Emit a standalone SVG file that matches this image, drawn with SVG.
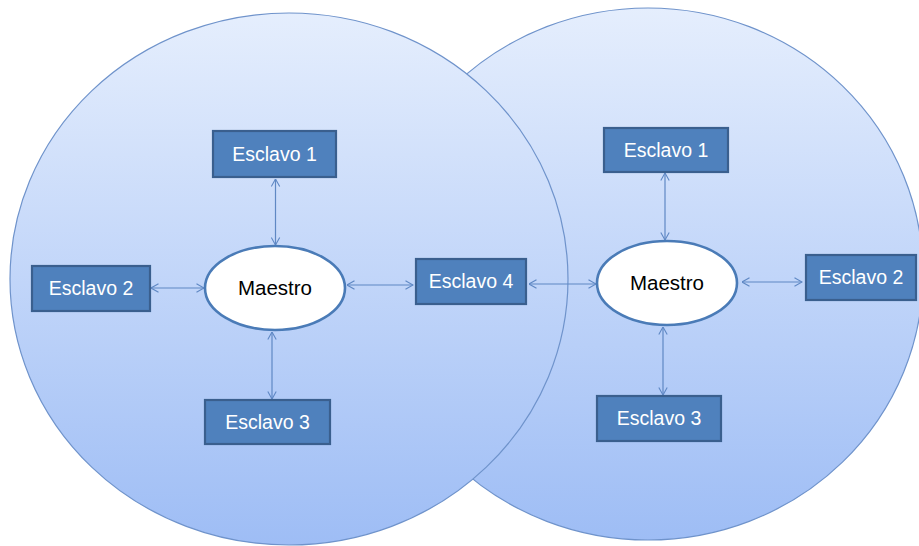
<svg xmlns="http://www.w3.org/2000/svg" width="919" height="546" viewBox="0 0 919 546">
  <style>
    .zone { stroke: #6f93cb; stroke-width: 1.2; }
    .box { fill: #4f81bd; stroke: #3a5f8e; stroke-width: 2.2; }
    .boxtxt { font-family: "Liberation Sans", Arial, sans-serif; font-size: 19.5px; fill: #ffffff; text-anchor: middle; }
    .master { fill: #ffffff; stroke: #4a7bb7; stroke-width: 2.6; }
    .mtxt { font-family: "Liberation Sans", Arial, sans-serif; font-size: 20.5px; fill: #000000; text-anchor: middle; }
    .link { stroke: #5f88c4; stroke-width: 1.2; fill: none; marker-start: url(#tip); marker-end: url(#tip); }
  </style>
  <defs>
    <linearGradient id="zoneFill" x1="0" y1="0" x2="0" y2="1">
      <stop offset="0" stop-color="#e5eefd"/>
      <stop offset="1" stop-color="#9ebdf5"/>
    </linearGradient>
    <marker id="tip" viewBox="0 0 10 10" refX="9.5" refY="5" markerWidth="10" markerHeight="10" markerUnits="userSpaceOnUse" orient="auto-start-reverse">
      <path d="M2,0.8 L9.5,5 L2,9.2" fill="none" stroke="#5f88c4" stroke-width="1.1"/>
    </marker>
  </defs>

  <!-- network zones: right one sits behind the left one -->
  <g id="zone-right">
    <ellipse class="zone" cx="648" cy="274" rx="275" ry="266" fill="url(#zoneFill)"/>
  </g>
  <g id="zone-left">
    <ellipse class="zone" cx="289" cy="279" rx="279" ry="266" fill="url(#zoneFill)"/>
  </g>

  <!-- connectors -->
  <g id="connectors">
    <line class="link" x1="275.5" y1="179" x2="275.5" y2="245"/>
    <line class="link" x1="151" y1="288" x2="204" y2="288"/>
    <line class="link" x1="347" y1="285" x2="413" y2="285"/>
    <line class="link" x1="272" y1="332" x2="272" y2="399"/>
    <line class="link" x1="529" y1="284" x2="596" y2="284"/>
    <line class="link" x1="665" y1="173" x2="665" y2="240"/>
    <line class="link" x1="742" y1="282" x2="802" y2="282"/>
    <line class="link" x1="663" y1="327" x2="663" y2="395"/>
  </g>

  <!-- left network -->
  <g id="left-master">
    <ellipse class="master" cx="275" cy="288" rx="70" ry="42"/>
    <text class="mtxt" x="275" y="295">Maestro</text>
  </g>
  <g id="left-slave-1">
    <rect class="box" x="213" y="131" width="123" height="46"/>
    <text class="boxtxt" x="274.5" y="161">Esclavo 1</text>
  </g>
  <g id="left-slave-2">
    <rect class="box" x="32" y="266" width="118" height="45"/>
    <text class="boxtxt" x="91" y="295">Esclavo 2</text>
  </g>
  <g id="left-slave-3">
    <rect class="box" x="205" y="400" width="125" height="44"/>
    <text class="boxtxt" x="267.5" y="429">Esclavo 3</text>
  </g>
  <g id="left-slave-4">
    <rect class="box" x="416" y="259" width="110" height="45"/>
    <text class="boxtxt" x="471" y="288">Esclavo 4</text>
  </g>

  <!-- right network -->
  <g id="right-master">
    <ellipse class="master" cx="667" cy="283" rx="70" ry="42"/>
    <text class="mtxt" x="667" y="290">Maestro</text>
  </g>
  <g id="right-slave-1">
    <rect class="box" x="604" y="128" width="124" height="44"/>
    <text class="boxtxt" x="666" y="157">Esclavo 1</text>
  </g>
  <g id="right-slave-2">
    <rect class="box" x="806" y="255" width="110" height="45"/>
    <text class="boxtxt" x="861" y="284">Esclavo 2</text>
  </g>
  <g id="right-slave-3">
    <rect class="box" x="597" y="396" width="124" height="45"/>
    <text class="boxtxt" x="659" y="425">Esclavo 3</text>
  </g>
</svg>
